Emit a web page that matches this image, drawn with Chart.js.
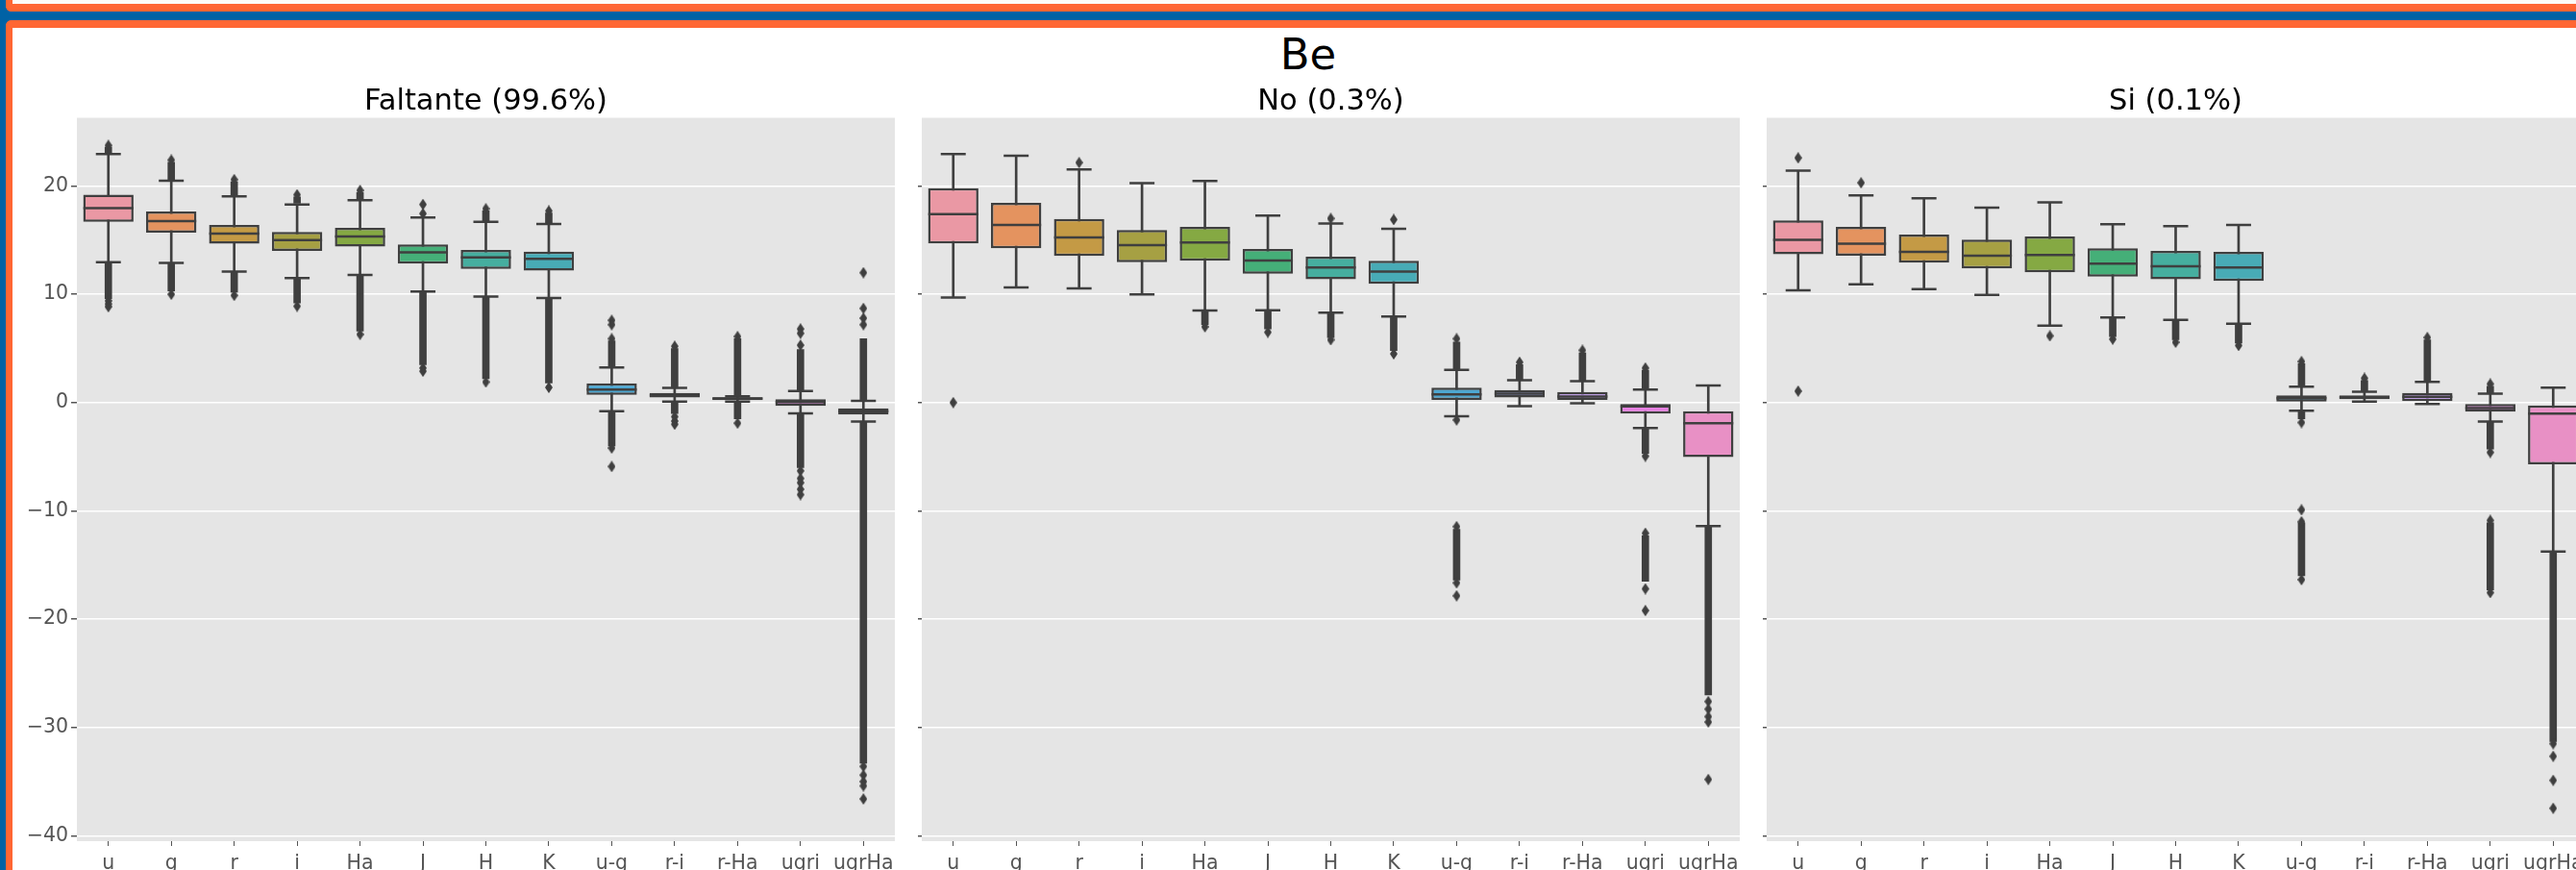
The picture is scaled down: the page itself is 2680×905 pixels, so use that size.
<!DOCTYPE html>
<html>
<head>
<meta charset="utf-8">
<script src="https://cdn.jsdelivr.net/npm/chart.js@4.4.1/dist/chart.umd.min.js"></script>
<style>
  body { margin: 0; width: 2680px; height: 905px; overflow: hidden; background: #0062A5; position: relative; font-family: 'DejaVu Sans', sans-serif; }
  #topBox { position: absolute; left: 6px; top: -10px; width: 2700px; height: 14px; background: #fdfbf7; border-left: 7px solid #FF6633; border-bottom: 8px solid #FF6633; border-bottom-left-radius: 6px; }
  #mainBox { position: absolute; left: 6px; top: 21px; width: 2700px; height: 900px; background: #fff; border-left: 7px solid #FF6633; border-top: 8px solid #FF6633; border-top-left-radius: 6px; }
  #suptitle { position: absolute; left: 1211px; width: 300px; top: 34px; text-align: center; font-size: 45px; line-height: 45px; color: #000; }
  canvas { position: absolute; }
</style>
</head>
<body>
<div id="topBox"></div>
<div id="mainBox"></div>
<div id="suptitle">Be</div>
<canvas id="panelFaltante" width="917" height="827" style="left:14px; top:88px;"></canvas>
<canvas id="panelNo" width="861" height="827" style="left:949px; top:88px;"></canvas>
<canvas id="panelSi" width="861" height="827" style="left:1828px; top:88px;"></canvas>
<script>
const categories = ['u', 'g', 'r', 'i', 'Ha', 'J', 'H', 'K', 'u-g', 'r-i', 'r-Ha', 'ugri', 'ugrHa'];
const yTicks = [-40, -30, -20, -10, 0, 10, 20];
const yMin = -40.5;
const yMax = 26.3;

// Faltante (99.6%)
const faltanteLow  = [12.97, 12.9, 12.1, 11.5, 11.8, 10.25, 9.8, 9.65, -0.8, 0.09, 0.09, -1.0, -1.75];
const faltanteQ1   = [16.7, 15.7, 14.67, 14.0, 14.4, 12.83, 12.35, 12.2, 0.71, 0.47, 0.23, -0.3, -1.1];
const faltanteMed  = [17.95, 16.77, 15.6, 15.0, 15.35, 13.87, 13.4, 13.27, 1.21, 0.68, 0.38, 0.05, -0.8];
const faltanteQ3   = [19.2, 17.65, 16.4, 15.76, 16.15, 14.6, 14.1, 13.95, 1.78, 0.89, 0.5, 0.32, -0.53];
const faltanteHigh = [22.96, 20.5, 19.05, 18.3, 18.7, 17.1, 16.7, 16.5, 3.25, 1.36, 0.59, 1.07, 0.15];
const faltanteFliers = [
  ['u', 23.75], ['u', 9.4], ['u', 9.1], ['u', 8.85],
  ['g', 22.4], ['g', 10.0], ['r', 20.6], ['r', 9.9], ['i', 19.2], ['i', 8.9],
  ['Ha', 19.6], ['Ha', 6.3], ['J', 18.3], ['J', 17.45], ['J', 3.2], ['J', 2.9],
  ['H', 17.9], ['H', 1.9], ['K', 17.7], ['K', 1.4],
  ['u-g', 7.6], ['u-g', 7.2], ['u-g', 5.9], ['u-g', -4.2], ['u-g', -5.9],
  ['r-i', 5.2], ['r-i', -1.3], ['r-i', -1.7], ['r-i', -2.0], ['r-Ha', 6.1], ['r-Ha', -1.9],
  ['ugri', 6.8], ['ugri', 6.4], ['ugri', 5.3], ['ugri', -6.3], ['ugri', -7.0], ['ugri', -7.4], ['ugri', -8.0], ['ugri', -8.5],
  ['ugrHa', 12.0], ['ugrHa', 8.7], ['ugrHa', 7.8], ['ugrHa', 7.2],
  ['ugrHa', -33.6], ['ugrHa', -34.4], ['ugrHa', -35.0], ['ugrHa', -35.4], ['ugrHa', -36.6]
];
const faltanteRuns = [
  ['u', 23.0, 23.6], ['u', 9.6, 12.9], ['g', 20.6, 22.2], ['g', 10.3, 12.9],
  ['r', 19.1, 20.4], ['r', 10.2, 12.1], ['i', 18.4, 19.0], ['i', 9.2, 11.5],
  ['Ha', 18.8, 19.4], ['Ha', 6.6, 11.8], ['J', 3.5, 10.2],
  ['H', 16.8, 17.7], ['H', 2.2, 9.8], ['K', 16.6, 17.5], ['K', 1.8, 9.6],
  ['u-g', 3.3, 5.7], ['u-g', -4.0, -0.8], ['r-i', 1.4, 5.0], ['r-i', -1.0, 0.1],
  ['r-Ha', 0.6, 5.9], ['r-Ha', -1.5, 0.1], ['ugri', 1.1, 4.9], ['ugri', -6.0, -1.0],
  ['ugrHa', 0.2, 5.9], ['ugrHa', -33.3, -1.75]
];

// No (0.3%)
const noLow  = [9.7, 10.63, 10.55, 10.0, 8.5, 8.53, 8.3, 7.94, -1.25, -0.33, -0.06, -2.34, -11.41];
const noQ1   = [14.7, 14.25, 13.54, 12.97, 13.1, 11.9, 11.38, 10.96, 0.24, 0.47, 0.24, -1.01, -5.04];
const noMed  = [17.4, 16.4, 15.25, 14.55, 14.78, 13.12, 12.47, 12.09, 0.77, 0.83, 0.56, -0.36, -1.9];
const noQ3   = [19.8, 18.45, 16.95, 15.94, 16.23, 14.19, 13.48, 13.1, 1.39, 1.16, 0.98, -0.12, -0.8];
const noHigh = [22.96, 22.8, 21.54, 20.26, 20.47, 17.27, 16.53, 16.06, 3.02, 2.07, 1.98, 1.21, 1.57];
const noFliers = [
  ['u', 0.0], ['r', 22.16], ['Ha', 7.0], ['J', 6.5], ['H', 17.0], ['H', 5.8], ['K', 16.9], ['K', 4.5],
  ['u-g', 5.9], ['u-g', -1.6], ['u-g', -11.45], ['u-g', -16.65], ['u-g', -17.84],
  ['r-i', 3.73], ['r-Ha', 4.83],
  ['ugri', 3.2], ['ugri', -4.95], ['ugri', -12.06], ['ugri', -17.2], ['ugri', -19.2],
  ['ugrHa', -27.6], ['ugrHa', -28.3], ['ugrHa', -29.0], ['ugrHa', -29.5], ['ugrHa', -34.8]
];
const noRuns = [
  ['Ha', 7.2, 8.5], ['J', 6.8, 8.5], ['H', 6.0, 8.3], ['K', 4.8, 7.9],
  ['u-g', 3.0, 5.6], ['u-g', -16.4, -11.7], ['r-i', 2.1, 3.5], ['r-Ha', 2.0, 4.6],
  ['ugri', 1.2, 3.0], ['ugri', -4.7, -2.3], ['ugri', -16.5, -12.3], ['ugrHa', -27.0, -11.41]
];

// Si (0.1%)
const siLow  = [10.37, 10.93, 10.49, 9.95, 7.11, 7.85, 7.64, 7.29, -0.74, 0.09, -0.12, -1.75, -13.75];
const siQ1   = [13.69, 13.57, 12.92, 12.38, 12.03, 11.64, 11.4, 11.23, 0.09, 0.32, 0.14, -0.83, -5.69];
const siMed  = [15.02, 14.67, 13.92, 13.57, 13.63, 12.83, 12.59, 12.47, 0.41, 0.5, 0.53, -0.5, -1.01];
const siQ3   = [16.83, 16.23, 15.52, 15.05, 15.34, 14.25, 14.01, 13.92, 0.68, 0.68, 0.89, -0.12, -0.27];
const siHigh = [21.42, 19.14, 18.87, 18.01, 18.49, 16.47, 16.29, 16.41, 1.48, 1.0, 1.92, 0.83, 1.39];
const siFliers = [
  ['u', 22.6], ['u', 1.06], ['g', 20.3], ['Ha', 6.16], ['J', 5.86], ['H', 5.57], ['K', 5.27],
  ['u-g', 3.79], ['u-g', -1.84], ['u-g', -9.9], ['u-g', -11.0], ['u-g', -16.35],
  ['r-i', 2.25], ['r-Ha', 6.01],
  ['ugri', 1.72], ['ugri', -4.6], ['ugri', -10.88], ['ugri', -17.55],
  ['ugrHa', -31.5], ['ugrHa', -32.66], ['ugrHa', -34.88], ['ugrHa', -37.46]
];
const siRuns = [
  ['J', 6.1, 7.8], ['H', 5.8, 7.6], ['K', 5.5, 7.3],
  ['u-g', 1.5, 3.6], ['u-g', -1.5, -0.74], ['u-g', -16.0, -11.1],
  ['r-i', 1.0, 2.05], ['r-Ha', 1.9, 5.8],
  ['ugri', 0.83, 1.5], ['ugri', -4.3, -1.75], ['ugri', -17.3, -11.1], ['ugrHa', -31.3, -13.75]
];

const boxColors = ['#EA98A4', '#E4935F', '#C49A45', '#A6A043', '#85A943', '#45AF78', '#46AE9F',
                   '#48ABB6', '#4DA7D1', '#8FA0E3', '#BD93EA', '#E680E1', '#E890C5'];
const lineColor = '#3f3f3f';

Chart.defaults.font.family = 'DejaVu Sans';

// thin diamond marker like matplotlib 'd'
const diamond = document.createElement('canvas');
diamond.width = 8;
diamond.height = 12;
const dctx = diamond.getContext('2d');
dctx.fillStyle = lineColor;
dctx.beginPath();
dctx.moveTo(4, 0);
dctx.lineTo(8, 6);
dctx.lineTo(4, 12);
dctx.lineTo(0, 6);
dctx.closePath();
dctx.fill();

const plotBg = {
  id: 'plotBg',
  beforeDraw(chart) {
    const a = chart.chartArea;
    const ctx = chart.ctx;
    ctx.save();
    ctx.fillStyle = '#E5E5E5';
    ctx.fillRect(a.left, a.top, a.right - a.left, a.bottom - a.top);
    ctx.restore();
  }
};

function dibujarPanel(id, titulo, low, q1, med, q3, high, fliers, runs, axisWidth, showLabels) {
  new Chart(document.getElementById(id), {
    type: 'bar',
    data: {
      labels: categories,
      datasets: [
        { // whiskers
          type: 'bar', data: low.map((v, i) => [v, high[i]]),
          backgroundColor: lineColor, barThickness: 2, grouped: false, order: 5
        },
        { // boxes
          type: 'bar', data: q1.map((v, i) => [v, q3[i]]),
          backgroundColor: boxColors, borderColor: lineColor, borderWidth: 2.5, borderSkipped: false,
          barPercentage: 0.8, categoryPercentage: 1, grouped: false, order: 4
        },
        { // medians
          type: 'line', data: med, showLine: false, pointStyle: 'line', pointRadius: 26,
          pointBorderWidth: 2.5, pointBorderColor: lineColor, order: 3
        },
        { // caps
          type: 'line', data: low, showLine: false, pointStyle: 'line', pointRadius: 13,
          pointBorderWidth: 2.5, pointBorderColor: lineColor, order: 3
        },
        {
          type: 'line', data: high, showLine: false, pointStyle: 'line', pointRadius: 13,
          pointBorderWidth: 2.5, pointBorderColor: lineColor, order: 3
        },
        { // dense outlier columns
          type: 'bar', data: runs.map(r => ({ x: r[0], y: [r[1], r[2]] })),
          backgroundColor: lineColor, barThickness: 7, grouped: false, order: 2
        },
        { // outliers
          type: 'line', data: fliers.map(f => ({ x: f[0], y: f[1] })), showLine: false,
          pointStyle: diamond, pointRadius: 5, order: 1
        }
      ]
    },
    options: {
      responsive: false,
      animation: false,
      layout: { padding: 0, autoPadding: false },
      plugins: {
        legend: { display: false },
        tooltip: { enabled: false },
        title: {
          display: true, text: titulo, color: '#000', fullSize: false,
          font: { size: 30.5, weight: 'normal', lineHeight: 1.1 },
          padding: { top: 1, bottom: 0 }
        }
      },
      scales: {
        x: {
          offset: true,
          grid: { display: true, drawOnChartArea: false, offset: false, tickColor: '#555', tickLength: 5 },
          border: { display: false },
          ticks: { color: '#555', font: { size: 20.5 }, padding: 6, maxRotation: 0, autoSkip: false },
          afterFit: s => { s.height = 40; s.paddingLeft = 0; s.paddingRight = 0; }
        },
        y: {
          min: yMin, max: yMax,
          afterBuildTicks: s => { s.ticks = yTicks.map(v => ({ value: v })); },
          afterFit: s => { s.width = axisWidth; s.paddingTop = 0; s.paddingBottom = 0; },
          grid: { color: '#ffffff', lineWidth: 1.5, tickColor: '#555', tickLength: showLabels ? 6 : 4 },
          border: { display: false },
          ticks: {
            display: showLabels, color: '#555', font: { size: 20.5 }, padding: 3,
            callback: v => v < 0 ? '\u2212' + (-v) : '' + v
          }
        }
      }
    },
    plugins: [plotBg]
  });
}

dibujarPanel('panelFaltante', 'Faltante (99.6%)', faltanteLow, faltanteQ1, faltanteMed, faltanteQ3, faltanteHigh, faltanteFliers, faltanteRuns, 66, true);
dibujarPanel('panelNo', 'No (0.3%)', noLow, noQ1, noMed, noQ3, noHigh, noFliers, noRuns, 10, false);
dibujarPanel('panelSi', 'Si (0.1%)', siLow, siQ1, siMed, siQ3, siHigh, siFliers, siRuns, 10, false);
</script>
</body>
</html>
